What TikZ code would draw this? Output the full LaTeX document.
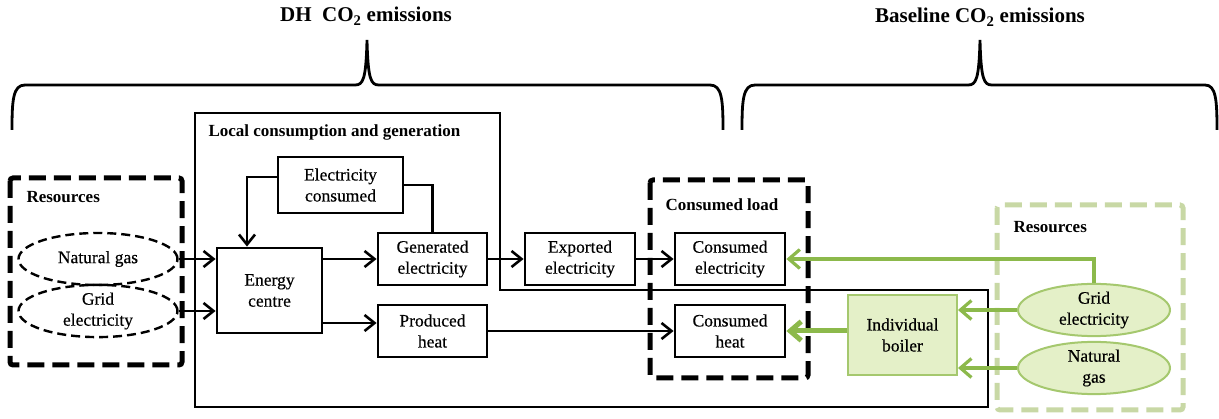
\documentclass[tikz,border=0pt]{standalone}
\usepackage{fontspec}
\setmainfont{Liberation Serif}
\usetikzlibrary{arrows.meta,shapes.geometric}

\definecolor{leaf}{RGB}{140,185,75}
\definecolor{leafline}{RGB}{165,200,110}
\definecolor{leafpale}{RGB}{228,240,200}
\definecolor{leafdash}{RGB}{200,216,165}

\newfontfamily\bodyserif{Liberation Serif}[FakeBold=0.4]
\newcommand{\bodytext}{\bodyserif\fontsize{17.5}{21}\selectfont}
\newcommand{\headtext}{\bfseries\fontsize{17}{20}\selectfont}

\begin{document}
\begin{tikzpicture}[x=1pt, y=-1pt,
    every node/.style={font=\bodytext},
    >={Straight Barb[length=10pt,width=16pt]},
    flowbox/.style={draw, line width=2.8pt, align=center, inner sep=1pt,
                    minimum width=109pt, minimum height=52pt},
    srcgas/.style={draw, ellipse, dashed, dash pattern=on 9pt off 5pt, line width=2.4pt,
                   align=center, inner sep=0pt, minimum width=159pt, minimum height=52pt},
    greensrc/.style={draw=leafline, fill=leafpale, ellipse, line width=2pt,
                     align=center, inner sep=0pt, minimum width=152pt, minimum height=50pt},
    frame/.style={line width=5pt, dash pattern=on 17pt off 8pt, rounded corners=3pt},
    headline/.style={font=\headtext, anchor=base west},
    title/.style={font=\bfseries\fontsize{21}{24}\selectfont, anchor=base},
    flow/.style={->, line width=2.6pt},
    gflow/.style={->, draw=leaf, line width=3.2pt,
                  >={Straight Barb[length=11pt,width=19pt]}}
  ]
    % Canvas
    \path[fill=white] (0,0) rectangle (1219,419);

    % Draw braces with titles
    \draw[line width=2.8pt] (12,130) .. controls (12,100) and (13,85) .. (25,85) -- (355,85)
      .. controls (363,85) and (366,80) .. (367,40) .. controls (368,80) and (371,85) .. (379,85)
      -- (710,85) .. controls (722,85) and (723,100) .. (723,130);
    \draw[line width=2.8pt] (742,130) .. controls (742,100) and (743,85) .. (755,85) -- (968,85)
      .. controls (976,85) and (979,80) .. (980,40) .. controls (981,80) and (984,85) .. (992,85)
      -- (1205,85) .. controls (1216,85) and (1217,100) .. (1217,130);
    \node[title] (dhtitle) at (366,22) {DH\ \ CO\textsubscript{2} emissions};
    \node[title] (basetitle) at (980,23) {Baseline CO\textsubscript{2} emissions};

    % Local consumption and generation area
    \draw[line width=1.4pt] (195,113) -- (500,113) -- (500,290) -- (988,290) -- (988,407)
      -- (195,407) -- cycle;
    \node[headline] (locallbl) at (205,137) {Local consumption and generation};

    % Resource frames
    \draw[frame] (10,178) rectangle (182,365);
    \node[headline] (reslbl) at (23,203) {Resources};
    \draw[frame] (650,180) rectangle (808,378);
    \node[headline] (loadlbl) at (662,211) {Consumed load};
    \draw[frame, draw=leafdash] (997,205) rectangle (1183,410);
    \node[headline] (greslbl) at (1010,233) {Resources};

    % DH nodes
    \node[srcgas] (ngas) at (98,259) {Natural gas};
    \node[srcgas] (grid) at (98,311) {Grid\\electricity};
    \node[flowbox, minimum width=105pt, minimum height=85pt] (energy) at (269.5,290.5) {Energy\\centre};
    \node[flowbox, minimum width=125pt, minimum height=56pt] (elcons) at (340.5,185) {Electricity\\consumed};
    \node[flowbox] (genel) at (432.5,259) {Generated\\electricity};
    \node[flowbox] (heat) at (432.5,331) {Produced\\heat};
    \node[flowbox, minimum width=110pt] (export) at (580,259) {Exported\\electricity};
    \node[flowbox, minimum width=110pt] (conel) at (730,259) {Consumed\\electricity};
    \node[flowbox, minimum width=110pt] (conheat) at (730,331) {Consumed\\heat};

    % Baseline nodes
    \node[draw=leafline, fill=leafpale, line width=2pt, align=center,
          minimum width=109pt, minimum height=80pt] (boiler) at (902.5,335) {Individual\\boiler};
    \node[greensrc] (ggrid) at (1094,310) {Grid\\electricity};
    \node[greensrc] (ggas) at (1094,368) {Natural\\gas};

    % DH connectors
    \draw[flow] (ngas.east) -- (ngas.east -| energy.west);
    \draw[flow] (grid.east) -- (grid.east -| energy.west);
    \draw[flow] (energy.east |- genel.west) -- (genel.west);
    \coordinate (heatin) at ([yshift=8pt]heat.west);
    \draw[flow] (energy.east |- heatin) -- (heatin);
    \draw[line width=2.6pt] (genel.north) |- (elcons.east);
    \draw[flow] ([yshift=8pt]elcons.west) -| ([xshift=-22.5pt]energy.north);
    \draw[flow] (genel) -- (export);
    \draw[flow] (export) -- (conel);
    \draw[flow] (heat) -- (conheat);

    % Baseline connectors
    \draw[gflow] (ggrid.north) |- (conel.east);
    \draw[gflow] (ggrid.west) -- (ggrid.west -| boiler.east);
    \draw[gflow] (ggas.west) -- (ggas.west -| boiler.east);
    \draw[gflow, line width=5pt] (conheat.east -| boiler.west) -- (conheat.east);
\end{tikzpicture}
\end{document}
